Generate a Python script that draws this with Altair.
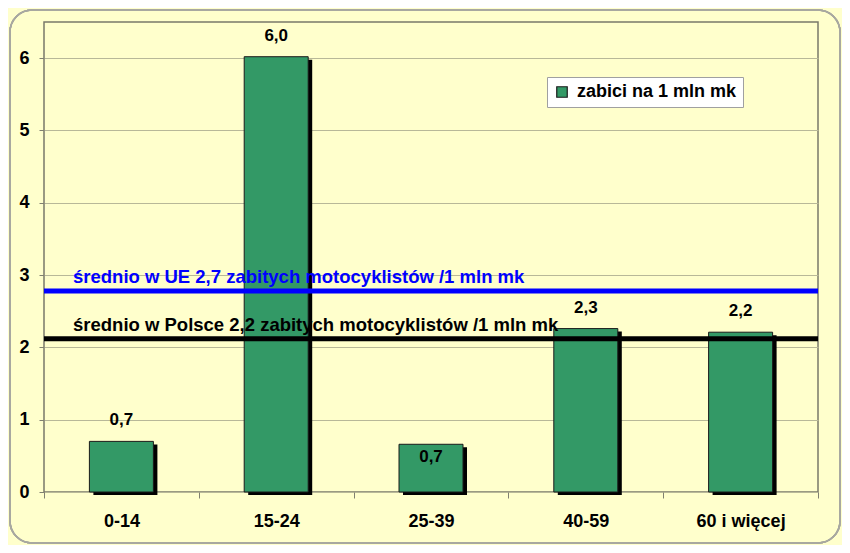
import altair as alt
import pandas as pd

# --- data ---
categories = ["0-14", "15-24", "25-39", "40-59", "60 i więcej"]
values = [0.70, 6.02, 0.66, 2.26, 2.21]
series_name = "zabici na 1 mln mk"

line_names = ["UE", "PL"]
line_values = [2.78, 2.12]
line_labels = [
    "średnio w UE 2,7 zabitych motocyklistów /1 mln mk",
    "średnio w Polsce 2,2 zabitych motocyklistów /1 mln mk",
]
y_ticks = [0, 1, 2, 3, 4, 5, 6]

bars = pd.DataFrame({"kat": categories, "v": values, "seria": [series_name] * len(categories)})
lines = pd.DataFrame({"nazwa": line_names, "val": line_values, "label": line_labels})

W, H = 774, 470
FONT = "Liberation Sans"
GREEN = "#339966"
BLUE = "#0000FF"

x_enc = alt.X(
    "kat:N",
    sort=categories,
    scale=alt.Scale(paddingInner=0, paddingOuter=0),
    axis=alt.Axis(
        title=None, labelAngle=0, tickBand="extent", tickSize=6, labelPadding=14,
        labelFontSize=18, labelFontWeight="bold", labelFont=FONT, labelColor="black",
        tickColor="#808070", domain=False, grid=False,
    ),
)
y_enc = alt.Y(
    "v:Q",
    scale=alt.Scale(domain=[0, 6.5], nice=False),
    axis=alt.Axis(
        title=None, values=y_ticks, format="d", tickSize=5, labelPadding=10,
        labelFontSize=18, labelFontWeight="bold", labelFont=FONT, labelColor="black",
        tickColor="#808070", domain=False, grid=True, gridColor="#B8B898", gridWidth=1,
    ),
)

base = alt.Chart(bars)

shadow = base.mark_bar(size=64, color="black", xOffset=4, yOffset=3).encode(
    x=x_enc, y=y_enc
)

bar = base.mark_bar(size=64, stroke="#1a1a1a", strokeWidth=1).encode(
    x=x_enc,
    y=y_enc,
    color=alt.Color(
        "seria:N",
        scale=alt.Scale(domain=[series_name], range=[GREEN]),
        legend=alt.Legend(
            title=None, orient="none", legendX=503, legendY=55,
            fillColor="white", strokeColor="#A0A0A0", padding=6,
            symbolType="square", symbolSize=110, symbolStrokeColor="#1a1a1a",
            symbolStrokeWidth=1.2, labelFontSize=18, labelFontWeight="bold",
            labelFont=FONT, labelColor="black", labelOffset=6,
        ),
    ),
)

labels_above = base.transform_filter(
    "datum.kat != '25-39'"
).transform_calculate(
    t="replace(format(datum.v, '.1f'), '.', ',')"
).mark_text(
    dy=-16, font=FONT, fontSize=17, fontWeight="bold", color="black", baseline="alphabetic"
).encode(x=x_enc, y=y_enc, text="t:N")

labels_inside = base.transform_filter(
    "datum.kat == '25-39'"
).transform_calculate(
    t="replace(format(datum.v, '.1f'), '.', ',')"
).mark_text(
    dy=18, font=FONT, fontSize=17, fontWeight="bold", color="black", baseline="alphabetic"
).encode(x=x_enc, y=y_enc, text="t:N")

line_color = alt.condition("datum.nazwa == 'UE'", alt.value(BLUE), alt.value("black"))

rules = alt.Chart(lines).mark_rule(strokeWidth=5).encode(
    y=alt.Y("val:Q", scale=alt.Scale(domain=[0, 6.5], nice=False)),
    color=line_color,
)

line_text = alt.Chart(lines).mark_text(
    align="left", baseline="alphabetic", dy=-8, font=FONT, fontSize=18.5, fontWeight="bold"
).encode(
    x=alt.value(29),
    y=alt.Y("val:Q", scale=alt.Scale(domain=[0, 6.5], nice=False)),
    text="label:N",
    color=line_color,
)

frame = alt.Chart(bars).mark_rect(
    filled=False, stroke="#A8A8A0", strokeWidth=1.5, cornerRadius=22
).encode(
    x=alt.value(-34), x2=alt.value(W + 22), y=alt.value(-12), y2=alt.value(H + 51)
)

chart = alt.layer(
    shadow, bar, rules, line_text, labels_above, labels_inside, frame
).properties(
    width=W, height=H,
    autosize="none",
    padding={"left": 36, "top": 14, "right": 24, "bottom": 53},
    background="#FFFFCC",
).configure_view(
    fill="#FFFFCC", stroke="#7A7A6A", strokeWidth=1.5
)

chart.save("out.html", embed_options={"renderer": "svg", "actions": False})
